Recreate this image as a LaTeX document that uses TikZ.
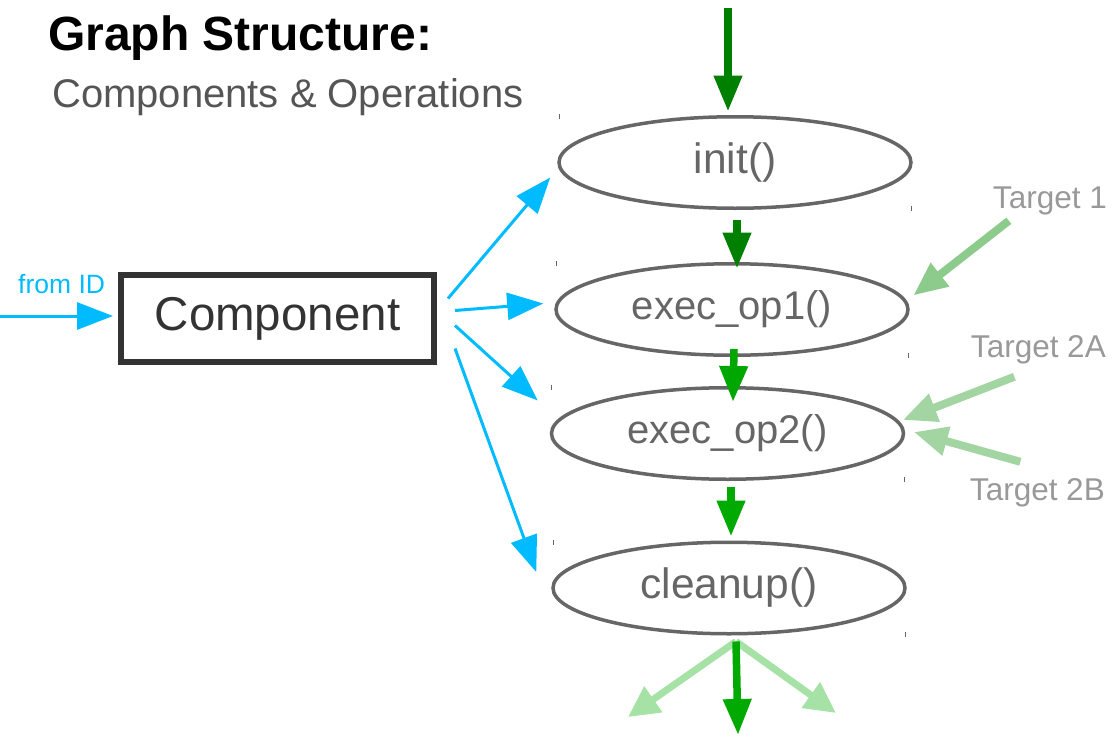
\documentclass[tikz,border=0pt]{standalone}
\usepackage{fontspec}
\setmainfont{Liberation Sans}
\usetikzlibrary{arrows.meta,shapes.geometric,calc}
\definecolor{opgray}{HTML}{666666}
\definecolor{dark}{HTML}{333333}
\definecolor{skyb}{HTML}{00BBFF}
\definecolor{dgreen}{HTML}{008000}
\definecolor{mgreen}{HTML}{00AA00}
\definecolor{lgreen}{HTML}{A6E2A6}
\definecolor{tgreen}{HTML}{8CCB8C}
\definecolor{tgray}{HTML}{999999}
\definecolor{subgray}{HTML}{555555}
\begin{document}
\begin{tikzpicture}[x=1pt,y=-1pt,
  op/.style={ellipse, draw=opgray, line width=3.5pt, minimum width=352pt, minimum height=91.5pt,
    inner sep=0pt, text=opgray, font=\fontsize{40}{48}\selectfont},
  comp/.style={draw=dark, line width=6pt, minimum width=313pt, minimum height=87pt, inner sep=0pt,
    text=dark, font=\fontsize{47.5}{56}\selectfont},
  barrow/.style={draw=skyb, line width=3pt, -{Triangle[length=36pt,width=27pt]}},
  garrow/.style={line width=7.5pt, -{Triangle[length=36pt,width=27pt]}},
  larrow/.style={line width=7pt, draw=lgreen, -{Triangle[length=31pt,width=30pt]}},
  tarrow/.style={line width=8pt, -{Triangle[length=34pt,width=28pt]}},
  tlabel/.style={text=tgray, font=\fontsize{31.5}{38}\selectfont, inner sep=0pt},
  tick/.style={draw=opgray, line width=1pt}
]
\useasboundingbox (0,0) rectangle (1112,739);

% title
\node[anchor=base west, inner sep=0pt, font=\fontsize{48}{56}\selectfont\bfseries] (title) at (48,50) {Graph Structure:};
\node[anchor=base west, inner sep=0pt, text=subgray, font=\fontsize{40}{46}\selectfont] (sub) at (52,107) {Components \& Operations};

% ellipses
\node[op, font=\fontsize{42.5}{50}\selectfont] (init) at (735,162.5) {init()};
\node[op] (op1) at (732,309.5) {exec\_op1()};
\node[op] (op2) at (727.5,433.5) {exec\_op2()};
\node[op, font=\fontsize{42.5}{50}\selectfont] (clean) at (729,588) {cleanup()};

% corner ticks
\foreach \n in {init,op1,op2,clean}{
  \draw[tick] ($(\n.west |- \n.north)+(2,-1)$) -- ++(0,5);
  \draw[tick] ($(\n.east |- \n.south)+(-1,-4)$) -- ++(0,5);
}

% component
\node[comp] (comp) at (277.5,318.5) {\raisebox{-2pt}{Component}};
\node[anchor=base west, inner sep=0pt, text=skyb, font=\fontsize{26.5}{30}\selectfont] (fromid) at (18,293) {from ID};
\coordinate (src) at (0,316);
\draw[barrow] (src) -- ($(comp.west)+(-5,-2.5)$);

% blue arrows
\draw[barrow] ($(comp.east)+(11,-20)$) -- ($(init.west)+(-7,15)$);
\draw[barrow] ($(comp.east)+(18,-8)$) -- ($(op1.west)+(-11,-6)$);
\draw[barrow] ($(comp.east)+(18,7)$) -- ($(op2.west)+(-12,-33)$);
\draw[barrow] ($(comp.east)+(18,30)$) -- ($(clean.west)+(-15,-16)$);

% green flow
\coordinate (top) at (728,8);
\draw[garrow, draw=dgreen] (top) -- ($(init.north)+(-7,-3.5)$);
\draw[garrow, draw=dgreen] ($(init.south)+(2,9.5)$) -- ($(op1.north)+(5,6.5)$);
\draw[garrow, draw=mgreen!92!dgreen] ($(op1.south)+(2,-8)$) -- ($(op2.north)+(5.5,16)$);
\draw[garrow, draw=mgreen] ($(op2.south)+(3.5,5.5)$) -- ($(clean.north)+(2,-4)$);
\coordinate (bl) at (628,717);
\coordinate (br) at (836,713);
\coordinate (bd) at (738,735);
\draw[larrow] ($(clean.south)+(7,6)$) -- (bl);
\draw[larrow] ($(clean.south)+(7,6)$) -- (br);
\draw[garrow, draw=mgreen] ($(clean.south)+(7,6)$) -- (bd);

% targets
\node[tlabel, anchor=base east] (t1) at (1107,208) {Target 1};
\node[tlabel, anchor=base east] (t2a) at (1106,357) {Target 2A};
\node[tlabel, anchor=base east] (t2b) at (1105,500) {Target 2B};
\draw[tarrow, draw=tgreen] ($(t1.south)+(-41,6)$) -- ($(op1.east)+(3.5,-14)$);
\draw[tarrow, draw=tgreen!80!white] ($(t2a.south)+(-24,13)$) -- ($(op2.east)+(-2.5,-13.5)$);
\draw[tarrow, draw=tgreen!80!white] ($(t2b.north)+(-17,-16)$) -- ($(op2.east)+(8.5,-1.5)$);
\end{tikzpicture}
\end{document}
